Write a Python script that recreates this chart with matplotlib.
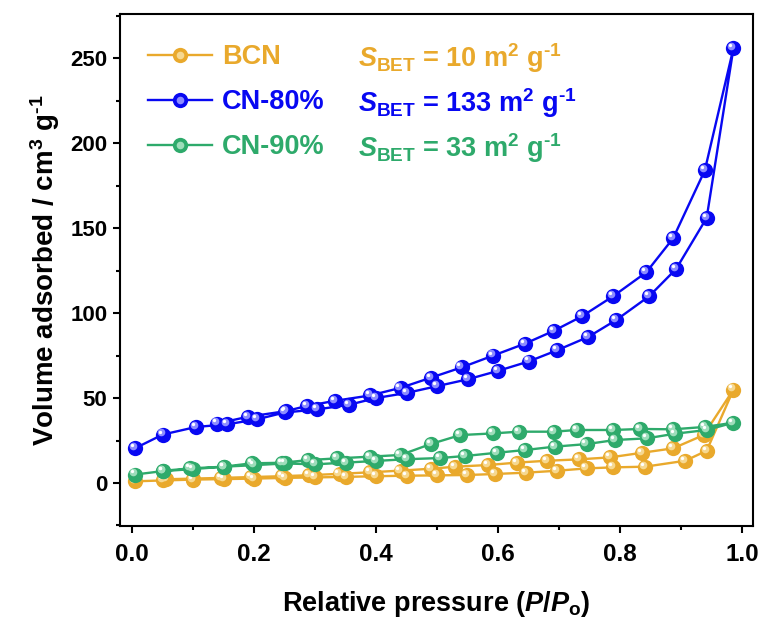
import matplotlib
matplotlib.use("Agg")
import matplotlib.pyplot as plt
import matplotlib.transforms as mtransforms
from matplotlib.ticker import MultipleLocator
from matplotlib.lines import Line2D
from matplotlib.legend_handler import HandlerTuple

plt.rcParams['font.family'] = ['Liberation Sans', 'DejaVu Sans']
plt.rcParams['font.weight'] = 'bold'
plt.rcParams['mathtext.fontset'] = 'custom'
plt.rcParams['mathtext.rm'] = 'Liberation Sans:bold'
plt.rcParams['mathtext.it'] = 'Liberation Sans:bold:italic'
plt.rcParams['mathtext.bf'] = 'Liberation Sans:bold'

HY = "\u2010"  # hyphen used in the superscript -1

# ---------------- data ----------------
series_names = ["BCN", "CN-80%", "CN-90%"]
sbet_values = [10, 133, 33]

bcn_p_ads = [0.005, 0.05, 0.10, 0.15, 0.20, 0.25, 0.30, 0.35, 0.40, 0.45, 0.50,
             0.549, 0.595, 0.646, 0.696, 0.745, 0.788, 0.841, 0.907, 0.942, 0.986]
bcn_v_ads = [1.0, 1.5, 2.0, 2.3, 2.6, 3.0, 3.3, 3.6, 4.0, 4.3, 4.5,
             4.7, 5.3, 6.1, 7.2, 8.6, 9.2, 9.6, 13.1, 19.0, 55.0]
bcn_p_des = [0.937, 0.887, 0.836, 0.784, 0.732, 0.680, 0.631, 0.584, 0.530, 0.49,
             0.44, 0.39, 0.34, 0.29, 0.245, 0.195, 0.145, 0.10, 0.055]
bcn_v_des = [28.2, 20.4, 17.8, 15.1, 13.9, 13.1, 12.0, 10.6, 9.6, 8.4,
             7.3, 6.3, 5.4, 4.6, 4.0, 3.5, 3.0, 2.6, 2.2]

cn80_p_ads = [0.005, 0.05, 0.105, 0.155, 0.205, 0.25, 0.303, 0.355, 0.40, 0.45, 0.50,
              0.55, 0.60, 0.65, 0.696, 0.748, 0.794, 0.848, 0.892, 0.942, 0.986]
cn80_v_ads = [20.5, 28.5, 33.0, 34.5, 37.5, 41.5, 43.3, 46.0, 50.0, 53.0, 57.0,
              61.0, 66.0, 71.5, 78.0, 86.0, 96.0, 110.0, 126.0, 156.0, 256.0]
cn80_p_des = [0.939, 0.887, 0.843, 0.789, 0.737, 0.691, 0.644, 0.592, 0.54, 0.49,
              0.44, 0.39, 0.333, 0.286, 0.252, 0.19, 0.139]
cn80_v_des = [184.0, 144.0, 124.0, 110.0, 98.0, 89.5, 82.0, 75.0, 68.0, 62.0,
              56.0, 51.5, 48.4, 45.3, 42.3, 39.0, 35.0]

cn90_p_ads = [0.005, 0.05, 0.10, 0.15, 0.20, 0.25, 0.30, 0.35, 0.40, 0.45, 0.505,
              0.546, 0.598, 0.644, 0.693, 0.745, 0.792, 0.844, 0.89, 0.942, 0.986]
cn90_v_ads = [5.0, 7.0, 8.2, 9.6, 10.5, 11.5, 11.0, 12.0, 13.0, 14.0, 14.7,
              15.9, 17.8, 19.4, 21.4, 22.9, 25.3, 26.3, 29.0, 31.2, 35.5]
cn90_p_des = [0.939, 0.887, 0.833, 0.789, 0.729, 0.691, 0.634, 0.592, 0.538, 0.49,
              0.44, 0.39, 0.336, 0.289, 0.245, 0.196, 0.15, 0.095, 0.051]
cn90_v_des = [33.0, 31.6, 31.8, 31.2, 31.2, 30.2, 30.2, 29.2, 28.2, 23.0,
              16.5, 15.5, 14.5, 13.5, 11.9, 11.6, 9.6, 8.6, 7.2]

x_ticks = [0.0, 0.2, 0.4, 0.6, 0.8, 1.0]
y_ticks = [0, 50, 100, 150, 200, 250]

colors = ["#E9A92C", "#0808F2", "#2EAA6B"]
light = ["#F6D890", "#8C8CFF", "#9EDDBA"]

# ---------------- figure ----------------
fig = plt.figure(figsize=(7.65, 6.25), dpi=100)
ax = fig.add_axes([120/765, 99/625, 633/765, 512/625])

data = {
    "BCN": (bcn_p_ads, bcn_v_ads, bcn_p_des, bcn_v_des),
    "CN-80%": (cn80_p_ads, cn80_v_ads, cn80_p_des, cn80_v_des),
    "CN-90%": (cn90_p_ads, cn90_v_ads, cn90_p_des, cn90_v_des),
}

off1 = mtransforms.offset_copy(ax.transData, fig=fig, x=-1.5, y=1.5, units='points')
off2 = mtransforms.offset_copy(ax.transData, fig=fig, x=-2.2, y=2.2, units='points')

draw_order = ["BCN", "CN-90%", "CN-80%"]
handles = {}
for name in draw_order:
    i = series_names.index(name)
    pa, va, pd, vd = data[name]
    p = list(pa) + list(pd)
    v = list(va) + list(vd)
    c = colors[i]
    ax.plot(p, v, '-', color=c, lw=1.7, zorder=2 + i)
    ax.plot(p, v, 'o', color=c, ms=11, mec='none', zorder=2 + i)
    ax.plot(p, v, 'o', color=light[i], ms=5.5, mec='none', zorder=2 + i, transform=off1)
    ax.plot(p, v, 'o', color='white', ms=2.4, mec='none', zorder=2 + i, transform=off2)
    handles[name] = (
        Line2D([], [], color=c, lw=1.7, marker='o', ms=11, mec='none'),
        Line2D([], [], ls='none', marker='o', color=light[i], ms=5.5, mec='none'),
    )

FS_LEG = 19.5
leg = ax.legend([handles[n] for n in series_names], series_names,
                handler_map={tuple: HandlerTuple(ndivide=1, pad=0)},
                loc='upper left', bbox_to_anchor=(0.044, 0.941),
                frameon=False, borderpad=0, borderaxespad=0,
                handlelength=2.36, handletextpad=0.37, labelspacing=0.70,
                prop={'family': 'Liberation Sans', 'weight': 'bold', 'size': FS_LEG})
for t, c in zip(leg.get_texts(), colors):
    t.set_color(c)

sbet_y = [0.896, 0.809, 0.721]
for val, c, yy in zip(sbet_values, colors, sbet_y):
    label = (r'$\mathit{S}_{\mathrm{BET}}$' + f' = {val} m' + r'$^{2}$' + ' g'
             + '$^{\\mathrm{' + HY + '1}}$')
    ax.text(0.376, yy, label, transform=ax.transAxes, color=c, fontsize=FS_LEG,
            fontweight='bold', va='baseline', ha='left')

ax.set_xlim(-0.02, 1.018)
ax.set_ylim(-25.3, 276)
ax.set_xticks(x_ticks)
ax.set_yticks(y_ticks)
ax.set_xticklabels([f"{t:.1f}" for t in x_ticks])
ax.set_yticklabels([str(t) for t in y_ticks])
ax.xaxis.set_minor_locator(MultipleLocator(0.1))
ax.yaxis.set_minor_locator(MultipleLocator(25))
ax.tick_params(axis='both', which='major', direction='out', length=5, width=1.5, pad=4)
ax.tick_params(axis='x', which='major', labelsize=17.5, pad=7)
ax.tick_params(axis='y', which='major', labelsize=16)
ax.tick_params(axis='both', which='minor', direction='out', length=3, width=1.5)
for lab in ax.get_xticklabels() + ax.get_yticklabels():
    lab.set_fontweight('bold')
for s in ax.spines.values():
    s.set_linewidth(1.5)

ax.set_xlabel(r'Relative pressure ($\mathit{P}$/$\mathit{P}_{\mathrm{o}}$)', fontsize=19.5,
              fontweight='bold', labelpad=17)
ax.set_ylabel('Volume adsorbed / cm$^{3}$ g$^{\\mathrm{' + HY + '1}}$', fontsize=20,
              fontweight='bold', labelpad=6)

fig.savefig("out.png", dpi=100)
